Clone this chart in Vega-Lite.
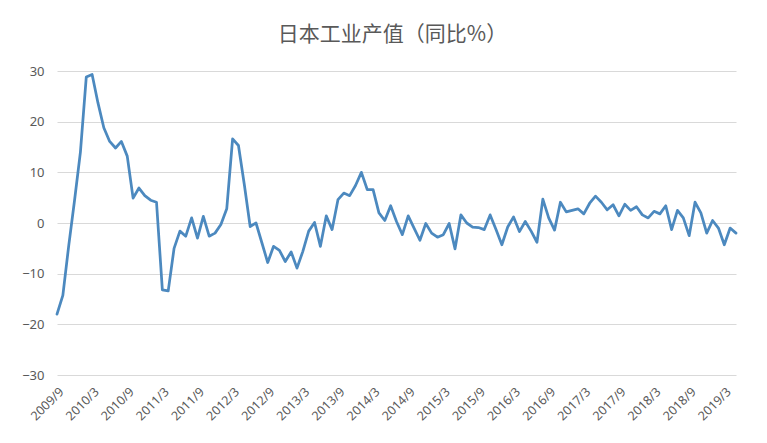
{
  "$schema": "https://vega.github.io/schema/vega-lite/v6.json",
  "width": 679,
  "height": 304,
  "autosize": {"type": "none"},
  "padding": {"left": 57, "top": 71, "right": 31, "bottom": 68},
  "background": "white",
  "title": {
    "text": "日本工业产值（同比%）",
    "font": "Noto Sans CJK SC",
    "fontSize": 21,
    "fontWeight": "normal",
    "color": "#595959",
    "anchor": "middle",
    "frame": "group",
    "dx": -4,
    "offset": 20
  },
  "data": {
    "values": [
      {"month": "2009/9", "value": -18.0},
      {"month": "2009/10", "value": -14.3},
      {"month": "2009/11", "value": -4.5},
      {"month": "2009/12", "value": 4.5},
      {"month": "2010/1", "value": 14.0},
      {"month": "2010/2", "value": 28.8},
      {"month": "2010/3", "value": 29.3},
      {"month": "2010/4", "value": 23.7},
      {"month": "2010/5", "value": 18.8},
      {"month": "2010/6", "value": 16.1},
      {"month": "2010/7", "value": 14.8},
      {"month": "2010/8", "value": 16.1},
      {"month": "2010/9", "value": 13.2},
      {"month": "2010/10", "value": 4.9},
      {"month": "2010/11", "value": 6.9},
      {"month": "2010/12", "value": 5.4},
      {"month": "2011/1", "value": 4.5},
      {"month": "2011/2", "value": 4.1},
      {"month": "2011/3", "value": -13.2},
      {"month": "2011/4", "value": -13.4},
      {"month": "2011/5", "value": -5.0},
      {"month": "2011/6", "value": -1.6},
      {"month": "2011/7", "value": -2.6},
      {"month": "2011/8", "value": 1.0},
      {"month": "2011/9", "value": -3.0},
      {"month": "2011/10", "value": 1.3},
      {"month": "2011/11", "value": -2.6},
      {"month": "2011/12", "value": -2.0},
      {"month": "2012/1", "value": -0.3},
      {"month": "2012/2", "value": 2.8},
      {"month": "2012/3", "value": 16.6},
      {"month": "2012/4", "value": 15.3},
      {"month": "2012/5", "value": 7.6},
      {"month": "2012/6", "value": -0.7},
      {"month": "2012/7", "value": 0.0},
      {"month": "2012/8", "value": -3.9},
      {"month": "2012/9", "value": -7.8},
      {"month": "2012/10", "value": -4.6},
      {"month": "2012/11", "value": -5.4},
      {"month": "2012/12", "value": -7.6},
      {"month": "2013/1", "value": -5.7},
      {"month": "2013/2", "value": -8.9},
      {"month": "2013/3", "value": -5.6},
      {"month": "2013/4", "value": -1.6},
      {"month": "2013/5", "value": 0.1},
      {"month": "2013/6", "value": -4.6},
      {"month": "2013/7", "value": 1.4},
      {"month": "2013/8", "value": -1.3},
      {"month": "2013/9", "value": 4.6},
      {"month": "2013/10", "value": 5.9},
      {"month": "2013/11", "value": 5.4},
      {"month": "2013/12", "value": 7.4},
      {"month": "2014/1", "value": 10.0},
      {"month": "2014/2", "value": 6.6},
      {"month": "2014/3", "value": 6.6},
      {"month": "2014/4", "value": 2.0},
      {"month": "2014/5", "value": 0.5},
      {"month": "2014/6", "value": 3.4},
      {"month": "2014/7", "value": 0.3},
      {"month": "2014/8", "value": -2.3},
      {"month": "2014/9", "value": 1.4},
      {"month": "2014/10", "value": -1.0},
      {"month": "2014/11", "value": -3.4},
      {"month": "2014/12", "value": -0.1},
      {"month": "2015/1", "value": -2.0},
      {"month": "2015/2", "value": -2.8},
      {"month": "2015/3", "value": -2.3},
      {"month": "2015/4", "value": -0.1},
      {"month": "2015/5", "value": -5.1},
      {"month": "2015/6", "value": 1.6},
      {"month": "2015/7", "value": 0.0},
      {"month": "2015/8", "value": -0.8},
      {"month": "2015/9", "value": -0.9},
      {"month": "2015/10", "value": -1.3},
      {"month": "2015/11", "value": 1.6},
      {"month": "2015/12", "value": -1.3},
      {"month": "2016/1", "value": -4.3},
      {"month": "2016/2", "value": -0.8},
      {"month": "2016/3", "value": 1.2},
      {"month": "2016/4", "value": -1.7},
      {"month": "2016/5", "value": 0.3},
      {"month": "2016/6", "value": -1.6},
      {"month": "2016/7", "value": -3.8},
      {"month": "2016/8", "value": 4.7},
      {"month": "2016/9", "value": 1.0},
      {"month": "2016/10", "value": -1.4},
      {"month": "2016/11", "value": 4.1},
      {"month": "2016/12", "value": 2.2},
      {"month": "2017/1", "value": 2.5},
      {"month": "2017/2", "value": 2.8},
      {"month": "2017/3", "value": 1.8},
      {"month": "2017/4", "value": 3.9},
      {"month": "2017/5", "value": 5.3},
      {"month": "2017/6", "value": 4.1},
      {"month": "2017/7", "value": 2.6},
      {"month": "2017/8", "value": 3.6},
      {"month": "2017/9", "value": 1.4},
      {"month": "2017/10", "value": 3.7},
      {"month": "2017/11", "value": 2.5},
      {"month": "2017/12", "value": 3.2},
      {"month": "2018/1", "value": 1.6},
      {"month": "2018/2", "value": 1.0},
      {"month": "2018/3", "value": 2.3},
      {"month": "2018/4", "value": 1.8},
      {"month": "2018/5", "value": 3.4},
      {"month": "2018/6", "value": -1.3},
      {"month": "2018/7", "value": 2.5},
      {"month": "2018/8", "value": 1.0},
      {"month": "2018/9", "value": -2.5},
      {"month": "2018/10", "value": 4.1},
      {"month": "2018/11", "value": 2.0},
      {"month": "2018/12", "value": -2.0},
      {"month": "2019/1", "value": 0.5},
      {"month": "2019/2", "value": -1.0},
      {"month": "2019/3", "value": -4.3},
      {"month": "2019/4", "value": -1.0},
      {"month": "2019/5", "value": -2.0}
    ]
  },
  "mark": {"type": "line", "color": "#4C89BF", "strokeWidth": 2.75, "strokeJoin": "round", "strokeCap": "round"},
  "encoding": {
    "x": {
      "field": "month",
      "type": "ordinal",
      "sort": null,
      "scale": {"type": "point", "padding": 0},
      "axis": {
        "values": ["2009/9", "2010/3", "2010/9", "2011/3", "2011/9", "2012/3", "2012/9", "2013/3", "2013/9", "2014/3", "2014/9", "2015/3", "2015/9", "2016/3", "2016/9", "2017/3", "2017/9", "2018/3", "2018/9", "2019/3"],
        "title": null,
        "labelAngle": -45,
        "grid": false,
        "domain": false,
        "ticks": false,
        "labelColor": "#595959",
        "labelFont": "Noto Sans",
        "labelFontSize": 12.5,
        "labelPadding": 10
      }
    },
    "y": {
      "field": "value",
      "type": "quantitative",
      "scale": {"domain": [-30, 30], "nice": false, "zero": false},
      "axis": {
        "values": [-30, -20, -10, 0, 10, 20, 30],
        "title": null,
        "domain": false,
        "ticks": false,
        "gridColor": "#d9d9d9",
        "gridWidth": 1,
        "labelColor": "#595959",
        "labelFont": "Noto Sans",
        "labelFontSize": 13,
        "labelPadding": 13
      }
    }
  },
  "config": {"view": {"stroke": null}}
}
